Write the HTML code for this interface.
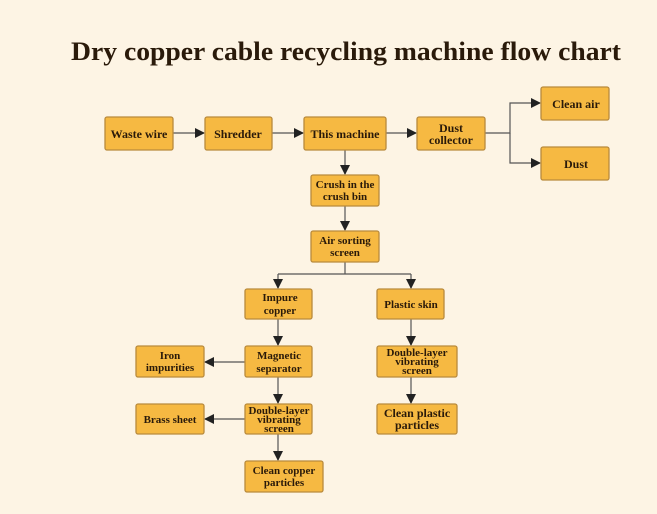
<!DOCTYPE html>
<html><head><meta charset="utf-8"><style>
html,body{margin:0;padding:0;background:#fdf4e4;}
svg{display:block}
text{font-family:"Liberation Serif",serif;font-weight:bold;fill:#2a1a0a;}
.b{fill:#f6b942;stroke:#b98a3c;stroke-width:1.3;}
.l{stroke:#555;stroke-width:1.2;fill:none;}
.t{font-size:12px;text-anchor:middle;}
.s{font-size:11px;text-anchor:middle;}
</style></head><body>
<svg width="657" height="514" viewBox="0 0 657 514">
<defs><marker id="a" markerWidth="10" markerHeight="10" refX="9" refY="5" orient="auto" markerUnits="userSpaceOnUse"><path d="M0,0 L10,5 L0,10 Z" fill="#222"/></marker></defs>
<rect width="657" height="514" fill="#fdf4e4"/>
<text x="71" y="60" font-size="26" textLength="550" lengthAdjust="spacingAndGlyphs" fill="#111">Dry copper cable recycling machine flow chart</text>

<!-- connectors -->
<path class="l" d="M173,133 H204" marker-end="url(#a)"/>
<path class="l" d="M272,133 H303" marker-end="url(#a)"/>
<path class="l" d="M386,133 H416" marker-end="url(#a)"/>
<path class="l" d="M485,133 H510 V103 H540" marker-end="url(#a)"/>
<path class="l" d="M510,133 V163 H540" marker-end="url(#a)"/>
<path class="l" d="M345,150 V174" marker-end="url(#a)"/>
<path class="l" d="M345,206 V230" marker-end="url(#a)"/>
<path class="l" d="M345,262 V274 M278,274 H411"/>
<path class="l" d="M278,274 V288" marker-end="url(#a)"/>
<path class="l" d="M411,274 V288" marker-end="url(#a)"/>
<path class="l" d="M278,319 V345" marker-end="url(#a)"/>
<path class="l" d="M278,377 V403" marker-end="url(#a)"/>
<path class="l" d="M278,434 V460" marker-end="url(#a)"/>
<path class="l" d="M245,362 H205" marker-end="url(#a)"/>
<path class="l" d="M245,419 H205" marker-end="url(#a)"/>
<path class="l" d="M411,319 V345" marker-end="url(#a)"/>
<path class="l" d="M411,377 V403" marker-end="url(#a)"/>

<!-- boxes -->
<rect class="b" x="105" y="117" width="68" height="33" rx="2"/><text class="t" x="139" y="138">Waste wire</text>
<rect class="b" x="205" y="117" width="67" height="33" rx="2"/><text class="t" x="238" y="138">Shredder</text>
<rect class="b" x="304" y="117" width="82" height="33" rx="2"/><text class="t" x="345" y="138">This machine</text>
<rect class="b" x="417" y="117" width="68" height="33" rx="2"/><text class="t" x="451" y="132">Dust</text><text class="t" x="451" y="144">collector</text>
<rect class="b" x="541" y="87" width="68" height="33" rx="2"/><text class="t" x="576" y="108">Clean air</text>
<rect class="b" x="541" y="147" width="68" height="33" rx="2"/><text class="t" x="576" y="168">Dust</text>
<rect class="b" x="311" y="175" width="68" height="31" rx="2"/><text class="s" x="345" y="188">Crush in the</text><text class="s" x="345" y="200">crush bin</text>
<rect class="b" x="311" y="231" width="68" height="31" rx="2"/><text class="s" x="345" y="244">Air sorting</text><text class="s" x="345" y="256">screen</text>
<rect class="b" x="245" y="289" width="67" height="30" rx="2"/><text class="s" x="280" y="301">Impure</text><text class="s" x="280" y="314">copper</text>
<rect class="b" x="377" y="289" width="67" height="30" rx="2"/><text class="s" x="411" y="308">Plastic skin</text>
<rect class="b" x="245" y="346" width="67" height="31" rx="2"/><text class="s" x="279" y="359">Magnetic</text><text class="s" x="279" y="372">separator</text>
<rect class="b" x="136" y="346" width="68" height="31" rx="2"/><text class="s" x="170" y="359">Iron</text><text class="s" x="170" y="371">impurities</text>
<rect class="b" x="245" y="404" width="67" height="30" rx="2"/><text class="s" x="279" y="414" font-size="10">Double-layer</text><text class="s" x="279" y="423" font-size="10">vibrating</text><text class="s" x="279" y="432" font-size="10">screen</text>
<rect class="b" x="136" y="404" width="68" height="30" rx="2"/><text class="s" x="170" y="423">Brass sheet</text>
<rect class="b" x="245" y="461" width="78" height="31" rx="2"/><text class="s" x="284" y="474">Clean copper</text><text class="s" x="284" y="486">particles</text>
<rect class="b" x="377" y="346" width="80" height="31" rx="2"/><text class="s" x="417" y="356" font-size="10">Double-layer</text><text class="s" x="417" y="365" font-size="10">vibrating</text><text class="s" x="417" y="374" font-size="10">screen</text>
<rect class="b" x="377" y="404" width="80" height="30" rx="2"/><text class="t" x="417" y="417">Clean plastic</text><text class="t" x="417" y="429">particles</text>
</svg>
</body></html>
